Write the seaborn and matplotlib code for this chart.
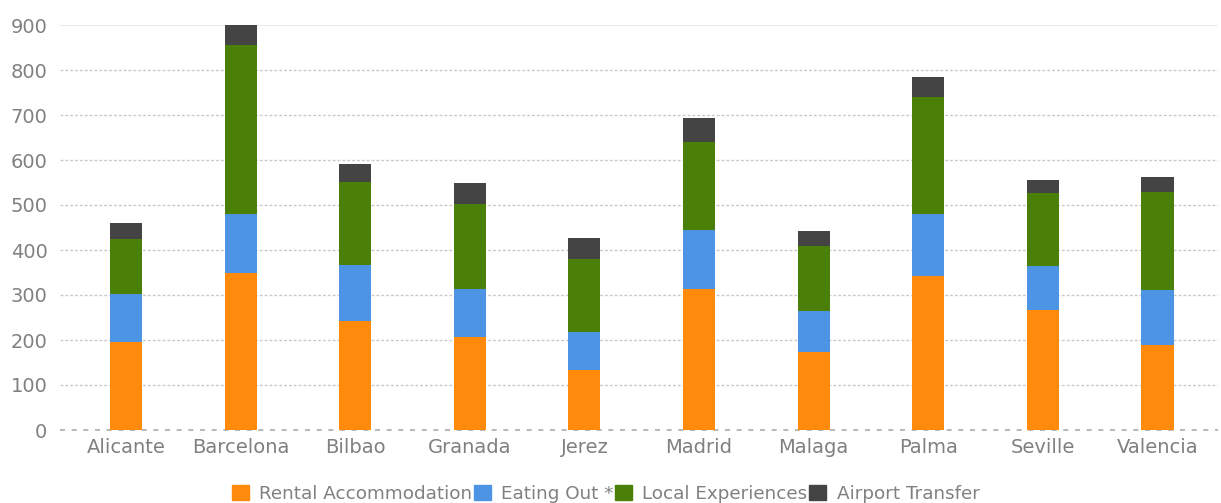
import numpy as np
import pandas as pd
import matplotlib
matplotlib.use('Agg')
import matplotlib.pyplot as plt
import seaborn as sns
from matplotlib.patches import Patch

# values
cities = ['Alicante', 'Barcelona', 'Bilbao', 'Granada', 'Jerez',
          'Madrid', 'Malaga', 'Palma', 'Seville', 'Valencia']
rental = [196, 348, 243, 207, 133, 313, 173, 342, 267, 189]
eating = [106, 133, 124, 106, 85, 131, 92, 137, 97, 122]
local = [122, 374, 185, 189, 163, 197, 144, 260, 162, 217]
airport = [37, 45, 39, 48, 45, 52, 34, 45, 30, 35]

series = ['Rental Accommodation', 'Eating Out *', 'Local Experiences', 'Airport Transfer']
colors = ['#ff8a0c', '#4d94e4', '#4a7f08', '#444444']

df = pd.DataFrame({'city': cities, series[0]: rental, series[1]: eating,
                   series[2]: local, series[3]: airport})
# cumulative sums so the bars can be overlaid from tallest to shortest
cum = df[series].cumsum(axis=1)
cum['city'] = df['city']

sns.set_style('white')
plt.rcParams['font.family'] = ['DejaVu Sans']

fig = plt.figure(figsize=(12.21, 5.03), dpi=100)
ax = fig.add_axes([60 / 1221, 73 / 503, 1158 / 1221, 405 / 503])

for name, col in reversed(list(zip(series, colors))):
    sns.barplot(data=cum, x='city', y=name, color=col, width=0.28,
                linewidth=0, saturation=1, ax=ax, zorder=3)

ax.set_ylim(0, 900)
ax.set_xlim(-0.576, 9.528)
ax.set_yticks(range(0, 1000, 100))
ax.set_xlabel('')
ax.set_ylabel('')
for y in range(100, 900, 100):
    ax.axhline(y, color='#c8c8c8', lw=1, ls=(0, (2, 1.5)), zorder=1)
ax.axhline(900, color='#e6e6e6', lw=1.2, zorder=1)
ax.axhline(0, color='#aaaaaa', lw=1.2, ls=(0, (3, 4)), zorder=1, clip_on=False)
sns.despine(ax=ax, left=True, bottom=True)
ax.tick_params(axis='both', length=0, labelsize=14, colors='#808080')
ax.tick_params(axis='y', pad=9)
ax.tick_params(axis='x', pad=6)

handles = [Patch(color=c, label=s) for s, c in zip(series, colors)]
fig.legend(handles=handles, loc='center', ncol=4, frameon=False,
           bbox_to_anchor=(0.496, 0.018), fontsize=13.2, handlelength=0.93,
           handleheight=0.93, handletextpad=0.55, columnspacing=0.1,
           labelcolor='#808080')

fig.savefig('out.png', dpi=100)
